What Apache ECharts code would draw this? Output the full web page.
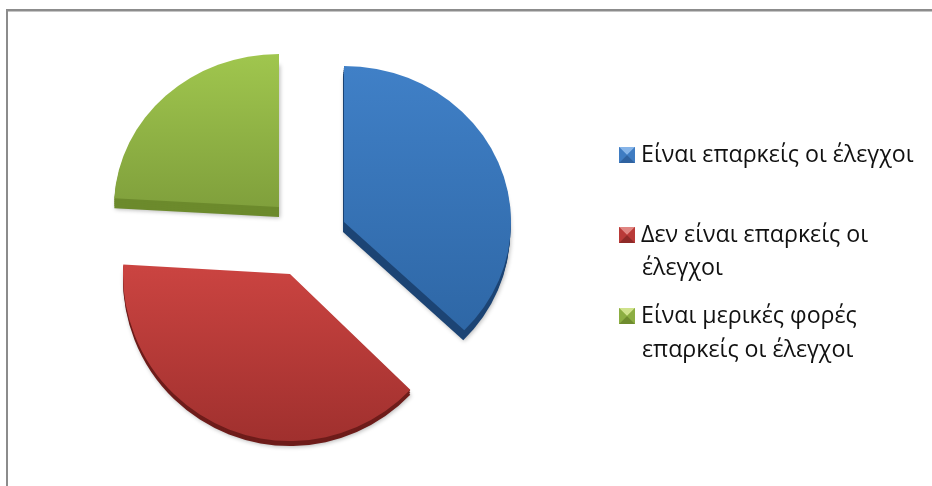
<!DOCTYPE html>
<html><head><meta charset="utf-8">
<style>html,body{margin:0;padding:0;background:#fff}#c{width:932px;height:486px}</style>
<script src="https://cdn.jsdelivr.net/npm/echarts@6/dist/echarts.min.js"></script>
</head><body><div id="c"></div>
<script>
const categories = ['Είναι επαρκείς οι έλεγχοι','Δεν είναι επαρκείς οι έλεγχοι','Είναι μερικές φορές επαρκείς οι έλεγχοι'];
const values = [37.2, 38.7, 24.1];
const legendFirstLines = ['Είναι επαρκείς οι έλεγχοι','Δεν είναι επαρκείς οι','Είναι μερικές φορές'];
const legendSecondLines = ['', 'έλεγχοι', 'επαρκείς οι έλεγχοι'];
const topColors = ['#4080c7','#cb4441','#a0c64e'];
const bottomColors = ['#2e67a6','#a0302e','#80a03c'];
const rimColors = ['#1c4474','#6e1c1a','#6c8a2c'];
const markerColors = [['#86b4e8','#3f7cc2','#4a88cf','#2f62a0'],['#e08682','#b93a38','#c9423f','#8f2a28'],['#cfe28c','#8cae42','#9cc04c','#6f8c2e']];

const slices = [
  {cx:344, cy:222, rx:167, ry:156, depth:10, shiftX:-1},
  {cx:290, cy:274, rx:167, ry:167, depth:5,  shiftX:0},
  {cx:279, cy:207, rx:165, ry:153, depth:10, shiftX:0}
];
const legendY = [155, 235, 316];
const secondLineY = [0, 268, 350];

function marker(c){
  const svg = `<svg xmlns="http://www.w3.org/2000/svg" width="16" height="16"><rect width="16" height="16" fill="${c[2]}"/><polygon points="0,0 16,0 8,8" fill="${c[0]}"/><polygon points="0,0 0,16 8,8" fill="${c[1]}"/><polygon points="16,0 16,16 8,8" fill="${c[1]}"/><polygon points="0,16 16,16 8,8" fill="${c[3]}"/></svg>`;
  return 'image://data:image/svg+xml;charset=utf-8,' + encodeURIComponent(svg);
}
function pieData(i, style){
  return categories.map((name,j)=>({name, value:values[j],
    itemStyle: j===i ? style : {color:'rgba(0,0,0,0)'}}));
}
const series = [];
slices.forEach((s,i)=>{
  for(let d=s.depth; d>0; d-=2){
    const st = {color:rimColors[i]};
    if(d===s.depth){ st.shadowColor='rgba(0,0,0,0.28)'; st.shadowBlur=4; st.shadowOffsetY=1; st.shadowOffsetX=1; }
    series.push({type:'pie', z:1, silent:true, animation:false, startAngle:90, clockwise:true,
      center:[s.cx+s.shiftX*d/s.depth, s.cy+d], radius:[0,s.rx], label:{show:false}, labelLine:{show:false},
      data:pieData(i,st)});
  }
});
slices.forEach((s,i)=>{
  series.push({type:'pie', z:2, animation:false, startAngle:90, clockwise:true,
    center:[s.cx,s.cy], radius:[0,s.rx], label:{show:false}, labelLine:{show:false},
    data:pieData(i,{color:{type:'linear',x:0,y:0,x2:0,y2:1,colorStops:[{offset:0,color:topColors[i]},{offset:1,color:bottomColors[i]}]}})});
});
const legendFontSize = 23.2;
const option = {
  backgroundColor:'#fff', animation:false,
  legend: categories.map((name,i)=>({
    left:619, top:legendY[i]-16, orient:'vertical', itemWidth:16, itemHeight:16, itemGap:0, padding:0,
    selectedMode:false, textStyle:{fontFamily:'"Open Sans"', fontSize:legendFontSize, color:'#111', padding:[0,0,0,1], height:32, lineHeight:32},
    formatter:()=>legendFirstLines[i],
    data:[{name, icon:marker(markerColors[i])}]
  })),
  graphic:[
    {type:'rect', shape:{x:6,y:9,width:2,height:477}, style:{fill:'#8c8c8c'}, silent:true},
    {type:'rect', shape:{x:6,y:9,width:926,height:2.5}, style:{fill:'#8c8c8c'}, silent:true},
    ...[1,2].map(i=>({type:'text', left:642, top:secondLineY[i]-16,
      style:{text:legendSecondLines[i], font:legendFontSize+'px "Open Sans"', fill:'#111', lineHeight:32, height:32, verticalAlign:'top'}, silent:true}))
  ],
  series
};
const chart = echarts.init(document.getElementById('c'),null,{renderer:'canvas'});
chart.setOption(option);
function flatten(){
  chart.getZr().storage.getDisplayList(true).forEach(el=>{
    if(el.type!=='sector') return;
    const s = slices.find(t=>Math.abs(t.cx-el.shape.cx)<=1.01 && Math.abs(t.rx-el.shape.r)<0.5 && el.shape.cy>=t.cy-0.5 && el.shape.cy<=t.cy+t.depth+0.5);
    if(!s) return;
    el.originX=el.shape.cx; el.originY=el.shape.cy; el.scaleY=s.ry/s.rx; el.markRedraw();
  });
  chart.getZr().refresh();
}
flatten();
</script></body></html>
